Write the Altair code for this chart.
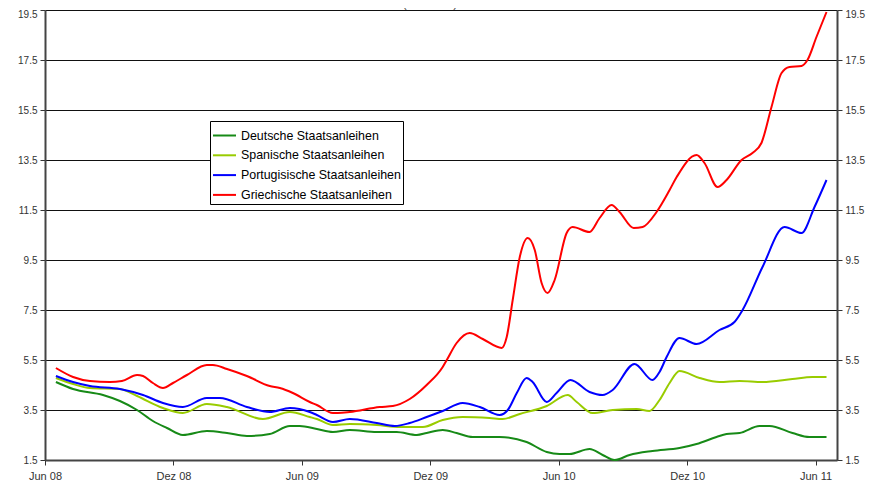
import altair as alt
import pandas as pd

series_names = ["Deutsche Staatsanleihen", "Spanische Staatsanleihen",
                "Portugisische Staatsanleihen", "Griechische Staatsanleihen"]
series_colors = ["#178a17", "#99cc00", "#0000ff", "#ff0000"]
x_tick_labels = ["Jun 08", "Dez 08", "Jun 09", "Dez 09", "Jun 10", "Dez 10", "Jun 11"]
x_tick_months = [0, 6, 12, 18, 24, 30, 36]
y_ticks = [1.5, 3.5, 5.5, 7.5, 9.5, 11.5, 13.5, 15.5, 17.5, 19.5]

# months since June 2008
de_month = [0.51, 1.31, 2.71, 3.50, 4.30, 5.04, 5.70, 6.44, 7.56, 8.50, 9.43, 10.50, 11.44, 11.90,
            12.70, 13.45, 14.24, 15.50, 16.43, 17.37, 17.83, 18.58, 19.23, 19.98, 21.24, 22.50,
            23.44, 24.04, 24.51, 25.44, 26.05, 26.61, 27.31, 28.38, 29.64, 30.44, 31.37, 31.84,
            32.45, 33.38, 33.85, 34.92, 35.71, 36.51]
de_yield = [4.62, 4.34, 4.10, 3.86, 3.50, 3.06, 2.78, 2.50, 2.66, 2.58, 2.46, 2.54, 2.86, 2.86,
            2.74, 2.62, 2.70, 2.62, 2.62, 2.50, 2.58, 2.70, 2.58, 2.42, 2.42, 2.22,
            1.82, 1.74, 1.74, 1.94, 1.70, 1.50, 1.70, 1.86, 1.98, 2.14, 2.42, 2.54,
            2.58, 2.86, 2.86, 2.58, 2.42, 2.42]

es_month = [0.51, 1.31, 2.10, 3.50, 4.30, 5.51, 6.44, 7.56, 8.50, 10.18, 11.44, 12.37, 12.70,
            13.45, 14.24, 15.50, 16.57, 17.65, 18.58, 19.51, 20.77, 21.38, 22.18, 23.44, 24.42,
            24.84, 25.58, 26.52, 27.64, 28.24, 28.71, 29.18, 29.64, 30.58, 31.51, 32.45, 33.52,
            34.92, 35.85, 36.51]
es_yield = [4.78, 4.54, 4.38, 4.34, 4.06, 3.58, 3.38, 3.74, 3.62, 3.14, 3.42, 3.22, 3.14,
            2.90, 2.94, 2.90, 2.82, 2.82, 3.10, 3.22, 3.18, 3.14, 3.34, 3.66, 4.10,
            3.82, 3.38, 3.50, 3.54, 3.46, 3.90, 4.58, 5.06, 4.78, 4.62, 4.66, 4.62,
            4.74, 4.82, 4.82]

pt_month = [0.51, 1.31, 2.10, 3.50, 4.58, 5.51, 6.44, 7.56, 8.17, 9.43, 10.50, 11.44, 12.37,
            12.70, 13.45, 14.24, 15.50, 16.34, 17.04, 17.83, 18.58, 19.51, 20.31, 21.24, 21.62,
            22.04, 22.50, 22.78, 23.44, 23.90, 24.55, 25.44, 26.05, 26.52, 27.54, 28.38, 28.71,
            29.04, 29.64, 30.44, 31.51, 32.21, 32.59, 33.52, 34.55, 35.34, 35.95, 36.51]
pt_yield = [4.86, 4.62, 4.46, 4.34, 4.10, 3.78, 3.62, 3.98, 3.98, 3.62, 3.42, 3.58, 3.42,
            3.30, 3.02, 3.14, 2.98, 2.86, 2.98, 3.22, 3.46, 3.78, 3.62, 3.30, 3.50,
            4.18, 4.78, 4.62, 3.82, 4.18, 4.70, 4.22, 4.10, 4.30, 5.34, 4.70, 5.02,
            5.62, 6.38, 6.14, 6.70, 7.02, 7.50, 9.22, 10.82, 10.58, 11.62, 12.70]

gr_month = [0.51, 1.31, 2.10, 3.03, 3.59, 4.30, 4.58, 5.04, 5.51, 5.98, 6.63, 7.56, 7.84, 8.50,
            9.43, 10.50, 10.97, 11.58, 12.37, 12.70, 13.45, 13.68, 14.24, 15.64, 16.25, 17.04,
            17.83, 18.58, 18.77, 19.23, 19.84, 20.45, 21.34, 21.57, 21.85, 22.18, 22.55, 22.88,
            23.20, 23.48, 23.81, 24.37, 24.65, 25.44, 25.91, 26.47, 26.84, 27.50, 27.92, 28.57,
            29.18, 29.51, 30.44, 30.81, 31.42, 31.84, 32.54, 33.05, 33.47, 33.94, 34.41, 34.78,
            35.34, 35.62, 36.04, 36.51]
gr_yield = [5.18, 4.82, 4.66, 4.62, 4.66, 4.90, 4.86, 4.58, 4.38, 4.58, 4.90, 5.30, 5.30, 5.14,
            4.86, 4.46, 4.38, 4.18, 3.82, 3.70, 3.38, 3.38, 3.42, 3.62, 3.66, 3.94,
            4.50, 5.22, 5.50, 6.18, 6.58, 6.34, 5.98, 6.42, 7.90, 9.62, 10.38, 9.90,
            8.58, 8.18, 8.70, 10.58, 10.82, 10.62, 11.18, 11.70, 11.42, 10.78, 10.82, 11.42,
            12.30, 12.82, 13.70, 13.38, 12.42, 12.70, 13.50, 13.78, 14.18, 15.62, 16.98, 17.22,
            17.26, 17.50, 18.42, 19.42]

frames = []
for name, months, values in [
    (series_names[0], de_month, de_yield),
    (series_names[1], es_month, es_yield),
    (series_names[2], pt_month, pt_yield),
    (series_names[3], gr_month, gr_yield),
]:
    frames.append(pd.DataFrame({"series": name, "month": months, "value": values}))
df = pd.concat(frames, ignore_index=True)

label_array = "[" + ",".join("'" + s + "'" for s in x_tick_labels) + "]"
FONT = "Liberation Sans"
top_label_shift = alt.ExprRef("datum.value >= 19.4 ? 4 : 0")

x_enc = alt.X(
    "month:Q",
    scale=alt.Scale(domain=[0, 37], nice=False, zero=False),
    axis=alt.Axis(
        values=x_tick_months, labelExpr=label_array + "[round(datum.value/6)]",
        grid=False, title=None, domainColor="#444", domainWidth=2, tickColor="#333",
        tickSize=5, tickWidth=1, labelFont=FONT, labelFontSize=11, labelColor="#333",
        labelPadding=5, labelFlush=False,
    ),
)
y_scale = alt.Scale(domain=[1.5, 19.5], nice=False, zero=False)

lines = alt.Chart(df).mark_line(interpolate="monotone", strokeWidth=2, clip=False).encode(
    x=x_enc,
    y=alt.Y(
        "value:Q", scale=y_scale,
        axis=alt.Axis(
            values=y_ticks, format=".1f", grid=True, gridColor="#111", gridWidth=1,
            domainColor="#444", domainWidth=2, tickColor="#333", tickSize=5,
            labelFont=FONT, labelFontSize=10, labelColor="#333", labelPadding=3, title=None,
            labelOffset=top_label_shift,
        ),
    ),
    color=alt.Color(
        "series:N",
        scale=alt.Scale(domain=series_names, range=series_colors),
        sort=series_names,
        legend=alt.Legend(
            orient="none", legendX=165, legendY=111, title=None,
            strokeColor="black", fillColor="white", padding=2, cornerRadius=0,
            symbolType="stroke", symbolSize=529, symbolStrokeWidth=2,
            labelFont=FONT, labelFontSize=12.4, labelColor="black", labelLimit=300,
            rowPadding=0.8, labelOffset=4,
        ),
    ),
)

right_axis = alt.Chart(df).mark_line(opacity=0).encode(
    x=x_enc,
    y=alt.Y(
        "value:Q", scale=y_scale,
        axis=alt.Axis(
            orient="right", values=y_ticks, format=".1f", grid=False,
            domainColor="#444", domainWidth=2, tickColor="#333", tickSize=5,
            labelFont=FONT, labelFontSize=10, labelColor="#333", labelPadding=3, title=None,
            labelOffset=top_label_shift,
        ),
    ),
    detail="series:N",
)

chart = alt.layer(lines, right_axis).resolve_scale(y="independent").properties(
    width=792, height=450,
    autosize=alt.AutoSizeParams(type="none"),
    padding={"left": 37, "top": 2, "right": 30, "bottom": 22},
    title=alt.TitleParams("(5-7 Jahre)", font=FONT, fontSize=11, fontWeight="normal",
                          color="#333", offset=-2, anchor="middle", dx=-11),
).configure_view(stroke=None).configure(background="white")

chart.save("out.html", embed_options={"renderer": "svg", "actions": False})
